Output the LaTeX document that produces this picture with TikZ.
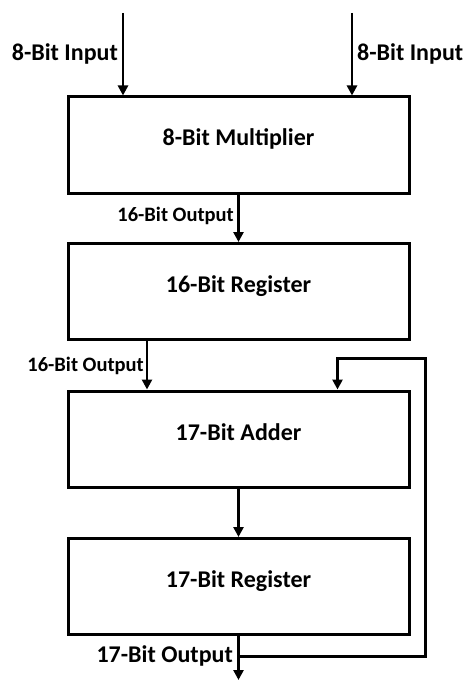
\documentclass[tikz,border=0pt]{standalone}
\usepackage{fontspec}
\setmainfont{Carlito}
\usetikzlibrary{arrows.meta}
\begin{document}
\begin{tikzpicture}[x=1pt,y=-1pt,
  blockbox/.style={draw,line width=3pt,minimum width=341pt,minimum height=96pt,
    inner sep=0pt,text height=16pt,text depth=14pt,font=\fontsize{24}{28}\selectfont\bfseries},
  arr/.style={line width=2.8pt,-{Triangle[width=10pt,length=10pt]}},
  fbwire/.style={line width=3pt,line join=miter},
  biglbl/.style={inner sep=1pt,font=\fontsize{24}{28}\selectfont\bfseries},
  smalllbl/.style={inner sep=1pt,font=\fontsize{20.5}{24}\selectfont\bfseries}]
\useasboundingbox (0,0) rectangle (466,682);
\node[blockbox] (mul) at (238.5,145) {8-Bit Multiplier};
\node[blockbox] (reg16) at (238.5,291.5) {16-Bit Register};
\node[blockbox] (add) at (238.5,439) {17-Bit Adder};
\node[blockbox] (reg17) at (238.5,586.5) {17-Bit Register};
\coordinate (inA) at (123,13);
\coordinate (inB) at (352,13);
\draw[arr] (inA) -- (inA |- mul.north);
\draw[arr] (inB) -- (inB |- mul.north);
\node[biglbl,anchor=base east] (lblA) at (119,61) {8-Bit Input};
\node[biglbl,anchor=base west] (lblB) at (356,61) {8-Bit Input};
\draw[arr] (mul.south) -- (reg16.north);
\node[smalllbl,anchor=base east] (lblC) at (235,221) {16-Bit Output};
\coordinate (r16out) at (147,0);
\draw[arr] (r16out |- reg16.south) -- (r16out |- add.north);
\node[smalllbl,anchor=base east] (lblD) at (145,371) {16-Bit Output};
\draw[arr] (add.south) -- (reg17.north);
\coordinate (outEnd) at (238.5,680);
\draw[arr] (reg17.south) -- (outEnd);
\coordinate (tap) at (238.5,656.5);
\coordinate (fbR) at (425.5,656.5);
\coordinate (fbTop) at (425.5,358.5);
\coordinate (fbL) at (337.5,358.5);
\draw[fbwire] (tap) -- (fbR) -- (fbTop) -- (fbL) -- ++(0,2);
\draw[arr] (fbL) -- (fbL |- add.north);
\node[biglbl,anchor=base east] (lblE) at (234,662) {17-Bit Output};
\end{tikzpicture}
\end{document}
